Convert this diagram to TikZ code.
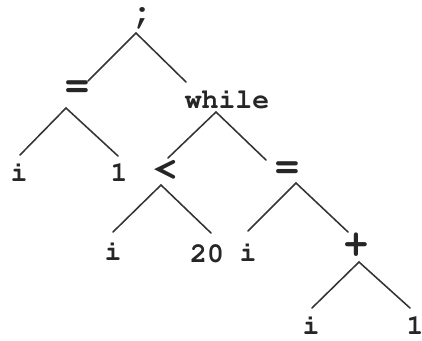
\documentclass[tikz,border=0pt]{standalone}
\usepackage[T1]{fontenc}
\usepackage{courier}

\begin{document}
\begin{tikzpicture}[x=0.025cm, y=-0.025cm]
  \tikzstyle{sym} = [inner sep=0pt, text=black!85, font=\ttfamily\bfseries\fontsize{20}{20}\selectfont]
  \tikzstyle{op} = [sym, font=\ttfamily\bfseries\fontsize{30}{30}\selectfont]
  \tikzstyle{branch} = [draw=black!80, line width=1.1pt, line cap=round]

  \useasboundingbox (0,0) rectangle (422,341);

  \node[op, font=\ttfamily\bfseries\fontsize{26}{26}\selectfont] (semi) at (143,18) {;};
  \node[op] (eqA) at (77,90) {=};
  \node[sym] (while) at (227,99) {while};

  \node[sym] (iA) at (19,172) {i};
  \node[sym] (oneA) at (119,173) {1};
  \node[op] (lt) at (165,171) {<};
  \node[op] (eqB) at (287,171) {=};

  \node[sym] (iB) at (113,251) {i};
  \node[sym] (twenty) at (207,254) {20};
  \node[sym] (iC) at (248,252) {i};
  \node[op] (plus) at (356,246) {+};

  \node[sym] (iD) at (311,325) {i};
  \node[sym] (oneD) at (415,326) {1};

  \draw[branch] ([shift={(-7,15)}]semi.center) -- ([shift={(11,-9)}]eqA.center);
  \draw[branch] ([shift={(-7,15)}]semi.center) -- ([shift={(-41,-17)}]while.center);

  \draw[branch] ([shift={(-11,18)}]eqA.center) -- ([shift={(1,-17)}]iA.center);
  \draw[branch] ([shift={(-11,18)}]eqA.center) -- ([shift={(-1,-17)}]oneA.center);

  \draw[branch] ([shift={(-11,13)}]while.center) -- ([shift={(3,-13)}]lt.center);
  \draw[branch] ([shift={(-11,13)}]while.center) -- ([shift={(-21,-11)}]eqB.center);

  \draw[branch] ([shift={(-4,14)}]lt.center) -- ([shift={(0,-19)}]iB.center);
  \draw[branch] ([shift={(-4,14)}]lt.center) -- ([shift={(4,-21)}]twenty.center);

  \draw[branch] ([shift={(9,12)}]eqB.center) -- ([shift={(0,-21)}]iC.center);
  \draw[branch] ([shift={(9,12)}]eqB.center) -- ([shift={(-8,-14)}]plus.center);

  \draw[branch] ([shift={(3,16)}]plus.center) -- ([shift={(1,-17)}]iD.center);
  \draw[branch] ([shift={(3,16)}]plus.center) -- ([shift={(-5,-18)}]oneD.center);
\end{tikzpicture}
\end{document}
